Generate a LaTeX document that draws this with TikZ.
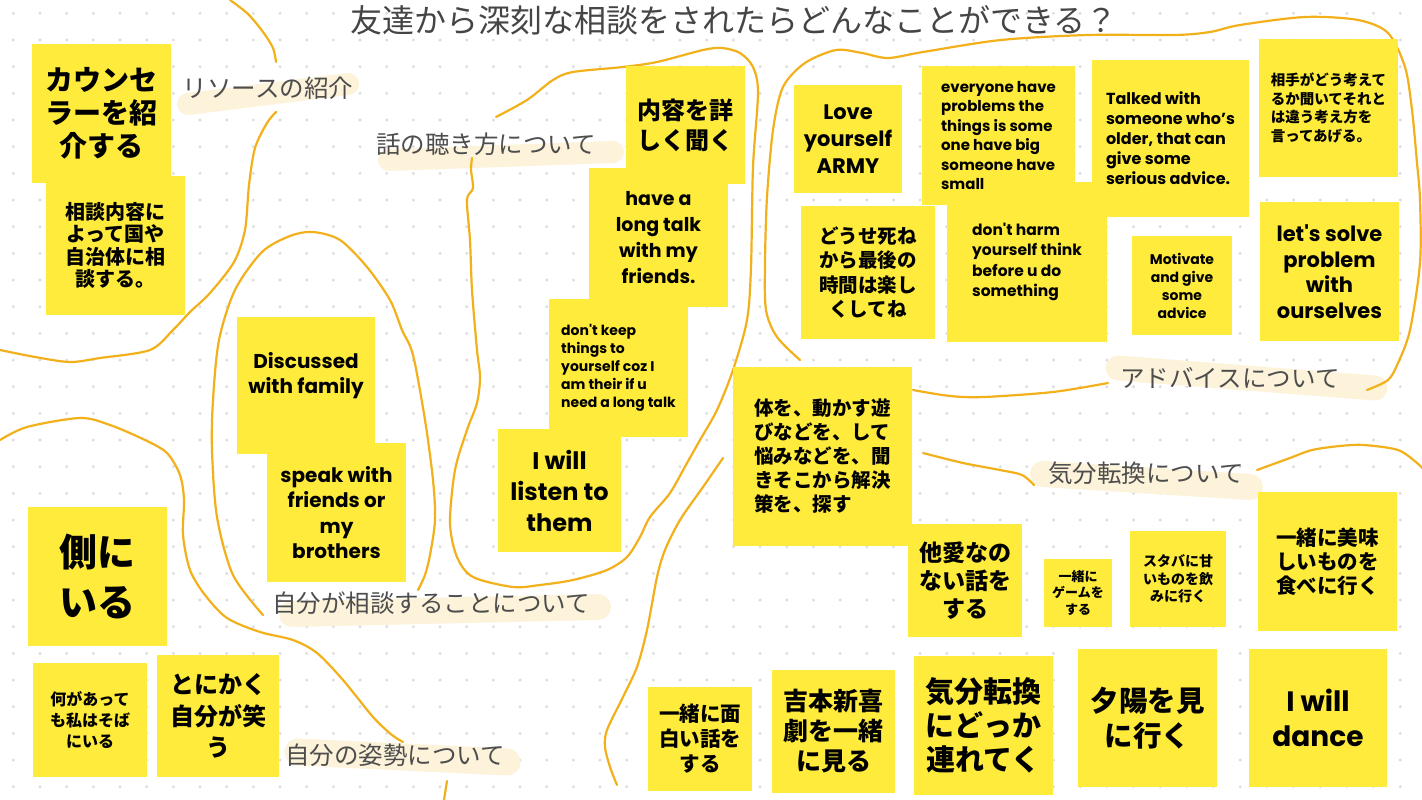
\documentclass[tikz,border=0pt]{standalone}
\usepackage{fontspec}
\setmainfont{Poppins}[Ligatures=TeXOff]
\newfontfamily\jafont{Noto Sans CJK JP}
\definecolor{noteyellow}{HTML}{FFEB3B}
\definecolor{penorange}{HTML}{F2B11B}
\definecolor{hlcream}{HTML}{FDF3DB}
\definecolor{dotgray}{HTML}{DCDCDC}
\definecolor{headgray}{HTML}{4D4D4D}

\begin{document}
\begin{tikzpicture}[
  x=1pt, y=-1pt,
  note/.style={fill=noteyellow, inner sep=0pt, align=center, text=black},
  boxsize/.style 2 args={minimum width=#1pt, minimum height=#2pt},
  jp/.style 2 args={font=\jafont\bfseries\fontsize{#1}{#2}\selectfont},
  en/.style 2 args={font=\bfseries\fontsize{#1}{#2}\selectfont},
  heading/.style={text=headgray, inner sep=0pt, font=\jafont\fontsize{24.5}{28}\selectfont},
  hilite/.style={draw=hlcream, line width=#1pt, line cap=round},
  pen/.style={draw=penorange, line width=2.2pt, line cap=round, line join=round}
]
  \useasboundingbox (0,0) rectangle (1422,800);
  \fill[white] (0,0) rectangle (1422,800);
  % dotted paper
  \foreach \i in {0,...,53}
    \foreach \j in {0,...,29}
      \fill[dotgray] ({13.33+26.67*\i},{13.33+26.67*\j}) circle (1.6);

  % marker strokes under the headings
  \draw[hilite=22] (188,104) -- (348,84);
  \draw[hilite=22] (389,160) -- (613,152);
  \draw[hilite=26] (292,614) -- (598,607);
  \draw[hilite=27] (298,752) -- (507,762);
  \draw[hilite=25] (1118,368) -- (1375,388);
  \draw[hilite=26] (1043,474) -- (1250,487);

  % hand drawn borders
  \draw[pen] plot[smooth] coordinates {(230,0) (248,14) (263,32) (273,48) (276,62)};
  \draw[pen] plot[smooth] coordinates {(276,112) (267,123) (255,148) (249,185) (245,230)
    (234,262) (210,293) (190,312) (173,330) (150,350) (100,358) (70,362) (35,357) (0,350)};
  \draw[pen] plot[smooth] coordinates {(263,615) (233,575) (217,517) (212,450) (213,400)
    (219,340) (235,290) (262,252) (290,236) (313,232) (340,240) (367,267) (390,300)
    (402,330) (413,355) (425,420) (433,480) (435,520) (430,555) (425,575) (418,590)};
  \draw[pen] plot[smooth] coordinates {(0,440) (27,427) (80,418) (110,425) (145,440)
    (167,453) (180,475) (184,500) (183,535) (190,570) (205,595) (227,618) (260,632)
    (293,640) (317,653) (343,680) (373,717) (392,735) (403,742)};
  \draw[pen] (447,781) -- (444,800);
  \draw[pen] plot[smooth] coordinates {(472,158) (471,170) (473,188) (467,200) (470,240)
    (472,290) (477,350) (480,377) (477,403) (467,430) (455,470) (450,523) (457,557)
    (473,577) (513,587) (540,585) (573,580) (607,570) (627,557) (640,537) (650,517)
    (670,493) (687,463) (700,440) (717,410) (733,370) (747,320) (751,267) (753,167)
    (758,93) (753,67) (740,53) (722,48) (703,50) (657,62) (623,67) (573,72) (553,80)
    (527,100) (496,117)};
  \draw[pen] plot[smooth] coordinates {(800,360) (777,337) (766,310) (765,263) (767,197)
    (773,130) (783,87) (805,63) (836,50) (862,53) (888,58) (923,52) (1001,40) (1088,35)
    (1175,35) (1210,32) (1240,25) (1305,17) (1358,20) (1388,33) (1405,67) (1412,110)
    (1417,163) (1420,200) (1420,263) (1410,330) (1398,363) (1388,380) (1367,390)};
  \draw[pen] plot[smooth] coordinates {(913,390) (950,396) (984,397) (1053,392) (1108,383)};
  \draw[pen] plot[smooth] coordinates {(923,453) (963,463) (1000,470) (1022,475) (1034,485)};
  \draw[pen] plot[smooth] coordinates {(1257,470) (1290,458) (1312,450) (1340,446)
    (1364,445) (1398,450) (1417,463) (1424,470)};
  \draw[pen] plot[smooth] coordinates {(723,458) (703,487) (680,520) (665,550) (657,577)
    (647,630) (637,667) (623,697) (607,730) (605,747) (610,767) (617,785)};

  % title and headings
  \node[heading, text=headgray!90!black, font=\jafont\fontsize{32}{36}\selectfont] (title) at (734,20) {友達から深刻な相談をされたらどんなことができる？};
  \node[heading] (hresource) at (268,88) {リソースの紹介};
  \node[heading] (hlisten) at (486,144) {話の聴き方について};
  \node[heading] (hconsult) at (431,603) {自分が相談することについて};
  \node[heading] (hattitude) at (395,755) {自分の姿勢について};
  \node[heading] (hadvice) at (1230,378) {アドバイスについて};
  \node[heading] (hrefresh) at (1146,473) {気分転換について};

  % sticky notes
  \node[note, boxsize={139}{139}, jp={28}{33}] (counselor) at (101.5,113.5) {カウンセ\\ラーを紹\\介する};
  \node[note, boxsize={139}{139}, jp={20}{22.5}] (localgov) at (115.5,245.5) {相談内容に\\よって国や\\自治体に相\\談する。};
  \node[note, boxsize={119}{118}, jp={24}{30}] (askdetail) at (685.5,125) {内容を詳\\しく聞く};
  \node[note, boxsize={139}{139}, en={19}{26}] (longtalk) at (658.5,237.5) {have a\\long talk\\with my\\friends.};
  \node[note, boxsize={139}{138}, en={14}{18}, align=left] (dontkeep) at (618.5,368) {don't keep\\things to\\yourself coz I\\am their if u\\need a long talk};
  \node[note, boxsize={123}{123}, en={24}{31}] (listen) at (559.5,490.5) {I will\\listen to\\them};
  \node[note, boxsize={108}{108}, en={21}{27}] (loveself) at (848,139) {Love\\yourself\\ARMY};
  \node[note, boxsize={160}{160}, en={15.5}{20.5}, align=left] (harm) at (1027,262) {don't harm\\yourself think\\before u do\\something};
  \node[note, boxsize={153}{139}, en={15}{19.5}, align=left] (everyone) at (998.5,135.5) {everyone have\\problems the\\things is some\\one have big\\someone have\\small};
  \node[note, boxsize={157}{157}, en={16}{20}, align=left] (older) at (1170.5,138.5) {Talked with\\someone who’s\\older, that can\\give some\\serious advice.};
  \node[note, boxsize={139}{138}, jp={14.5}{18.5}, align=left] (otherview) at (1328.5,108) {相手がどう考えて\\るか聞いてそれと\\は違う考え方を\\言ってあげる。};
  \node[note, boxsize={100}{99}, en={14}{18}] (motivate) at (1182,285.5) {Motivate\\and give\\some\\advice};
  \node[note, boxsize={139}{139}, en={21}{25.5}] (solve) at (1329.5,271.5) {let's solve\\problem\\with\\ourselves};
  \node[note, boxsize={134}{133}, jp={19.5}{24.5}] (enjoy) at (868,272.5) {どうせ死ね\\から最後の\\時間は楽し\\くしてね};
  \node[note, boxsize={138}{137}, en={20}{25}] (family) at (306,385.5) {Discussed\\with family\\\mbox{}};
  \node[note, boxsize={139}{139}, en={20}{25.5}] (brothers) at (336.5,512.5) {speak with\\friends or\\my\\brothers};
  \node[note, boxsize={139}{139}, jp={38}{50}] (beside) at (97.5,576.5) {側に\\いる};
  \node[note, boxsize={114}{114}, jp={16}{21}] (always) at (90,720) {何があって\\も私はそば\\にいる};
  \node[note, boxsize={122}{122}, jp={24}{31.5}] (smile) at (218,716) {とにかく\\自分が笑\\う};
  \node[note, boxsize={179}{179}, jp={19.5}{24}, align=left] (moveplay) at (822.5,456.5) {体を、動かす遊\\びなどを、して\\悩みなどを、聞\\きそこから解決\\策を、探す};
  \node[note, boxsize={114}{113}, jp={23}{28}] (smalltalk) at (965,580.5) {他愛なの\\ない話を\\する};
  \node[note, boxsize={68}{68}, jp={13}{16.7}] (game) at (1078,593) {一緒に\\ゲームを\\する};
  \node[note, boxsize={96}{96}, jp={14}{17.5}] (starbucks) at (1178,579) {スタバに甘\\いものを飲\\みに行く};
  \node[note, boxsize={139}{139}, jp={20.5}{24}] (eatout) at (1327.5,561.5) {一緒に美味\\しいものを\\食べに行く};
  \node[note, boxsize={104}{104}, jp={20.5}{25}] (funnytalk) at (700,739) {一緒に面\\白い話を\\する};
  \node[note, boxsize={123}{123}, jp={25}{30}] (yoshimoto) at (833.5,731.5) {吉本新喜\\劇を一緒\\に見る};
  \node[note, boxsize={139}{139}, jp={29}{34}] (takeout) at (983.5,725.5) {気分転換\\にどっか\\連れてく};
  \node[note, boxsize={139}{138}, jp={28.5}{35}] (sunset) at (1147.5,718) {夕陽を見\\に行く};
  \node[note, boxsize={138}{138}, en={28}{35}] (dance) at (1318,718) {I will\\dance};
\end{tikzpicture}
\end{document}
